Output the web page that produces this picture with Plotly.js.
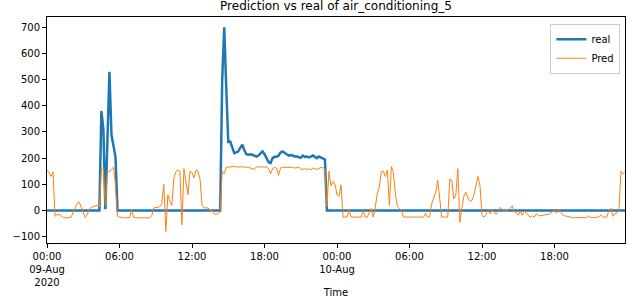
<!DOCTYPE html>
<html>
<head>
<meta charset="utf-8">
<script src="https://cdn.plot.ly/plotly-3.0.1.min.js"></script>
<style>html,body{margin:0;padding:0;background:#fff;}#chart{width:628px;height:298px;}</style>
</head>
<body>
<div id="chart"></div>
<script>
// 10-minute samples from 2020-08-09 00:00 to 2020-08-10 23:50
const startTime = "2020-08-09T00:00:00Z";
const stepMinutes = 10;

const realValues = [
  0,0,0,0,0,0, 0,0,0,0,0,0, 0,0,0,0,0,0, 0,0,0,0,0,0,
  0,0,0,380,310,5, 265,530,290,240,205,0,
  0,0,0,0,0,0, 0,0,0,0,0,0, 0,0,0,0,0,0, 0,0,0,0,0,0,
  0,0,0,0,0,0, 0,0,0,0,0,0, 0,0,0,0,0,0, 0,0,0,0,0,0,
  0,0,0,500,700,470, 262,263,240,219,222,226, 240,251,230,215,213,215,
  213,208,206,210,220,226, 215,200,185,181,200,205, 205,210,222,226,222,215,
  210,212,210,206,206,203, 201,210,205,206,203,206, 210,205,200,206,203,201,
  195,0,0,0,0,0,
  0,0,0,0,0,0, 0,0,0,0,0,0, 0,0,0,0,0,0, 0,0,0,0,0,0,
  0,0,0,0,0,0, 0,0,0,0,0,0, 0,0,0,0,0,0, 0,0,0,0,0,0,
  0,0,0,0,0,0, 0,0,0,0,0,0, 0,0,0,0,0,0, 0,0,0,0,0,0,
  0,0,0,0,0,0, 0,0,0,0,0,0, 0,0,0,0,0,0, 0,0,0,0,0,0,
  0,0,0,0,0,0, 0,0,0,0,0,0, 0,0,0,0,0,0, 0,0,0,0,0,0,
  0,0,0,0,0,0, 0,0,0,0,0,0, 0,0,0,0,0,0, 0,0,0,0,0,0
];

const predValues = [
  155,145,130,148,-22,-15, -15,-22,-27,-28,-28,-27, -25,-10,10,28,32,12, -10,-27,-15,5,12,15,
  18,20,15,155,158,20, 150,148,158,165,100,-22, -25,-27,-28,-28,-28,-27, 3,-27,-28,-28,-28,-28,
  -28,-28,-28,-28,-20,10, 12,12,15,25,100,-80, 60,35,20,125,148,155, 150,-55,160,110,60,150,
  145,125,155,150,120,20, 10,10,10,-3,3,-12, -15,-12,-5,150,140,165, 166,167,167,168,167,166,
  166,167,165,165,166,162, 158,160,166,167,166,165, 166,166,160,140,160,165, 162,135,163,165,165,166,
  166,166,165,162,163,166, 160,156,162,155,160,155, 163,160,157,160,165,163, 160,15,150,95,110,100,
  60,55,98,-25,-25,-25, 3,-25,-25,-25,-25,-25, -25,0,-25,-25,-5,8, -25,12,65,90,148,150,
  130,155,20,168,145,60, 15,8,0,-25,-25,-25, -25,-25,-25,-25,-25,-25, -25,-25,-10,-25,-25,25,
  48,70,117,45,-25,-25, -25,-25,120,115,44,60, 160,-45,10,55,70,48, 35,38,60,94,130,95,
  -20,-25,-15,0,-12,5, -5,-15,-5,12,5,-3, 0,2,8,18,-4,-8, -18,-2,-18,-2,-8,-16,
  -27,-20,-25,-12,-20,-20, -19,-18,-16,-14,-10,-5, 3,-10,5,-3,-16,-20, -22,-25,-25,-27,-27,-27,
  -27,-27,-27,-27,-27,-20, -27,-27,-27,-27,-25,-16, -25,-25,-25,0,8,-22, -12,-10,0,150,140,148
];

const tickVals = ["2020-08-09 00:00","2020-08-09 06:00","2020-08-09 12:00","2020-08-09 18:00",
                  "2020-08-10 00:00","2020-08-10 06:00","2020-08-10 12:00","2020-08-10 18:00"];
const tickText = ["00:00<br>09-Aug<br>2020","06:00","12:00","18:00","00:00<br>10-Aug","06:00","12:00","18:00"];
const yTicks = [-100,0,100,200,300,400,500,600,700];

function fmt(d){
  const p = n => String(n).padStart(2,"0");
  return d.getUTCFullYear()+"-"+p(d.getUTCMonth()+1)+"-"+p(d.getUTCDate())+" "+p(d.getUTCHours())+":"+p(d.getUTCMinutes());
}
const t0 = new Date(startTime).getTime();
const times = predValues.map((_, i) => fmt(new Date(t0 + i*stepMinutes*60000)));

const font = {family: "DejaVu Sans, sans-serif", size: 10, color: "#000"};

const traces = [
  {x: times, y: realValues, type: "scatter", mode: "lines", name: "real",
   line: {color: "#1f77b4", width: 2.5}},
  {x: times, y: predValues, type: "scatter", mode: "lines", name: "Pred",
   line: {color: "#ff7f0e", width: 1}}
];

const layout = {
  width: 628, height: 298,
  margin: {l: 47, r: 3, t: 17, b: 55},
  paper_bgcolor: "#fff", plot_bgcolor: "#fff",
  font: font,
  title: {text: "Prediction vs real of air_conditioning_5", font: {family: font.family, size: 12, color: "#000"},
          x: 0.535, xanchor: "center", y: 0.995, yanchor: "top"},
  xaxis: {
    type: "date", range: [times[0], times[times.length-1]],
    tickmode: "array", tickvals: tickVals, ticktext: tickText,
    ticks: "outside", ticklen: 4, tickcolor: "#000", tickwidth: 1,
    showline: true, linecolor: "#000", linewidth: 1, mirror: true,
    showgrid: false, zeroline: false, automargin: false,
    tickfont: font,
    title: {text: "Time", font: font, standoff: 6}
  },
  yaxis: {
    range: [-124, 739],
    tickmode: "array", tickvals: yTicks,
    ticks: "outside", ticklen: 4, tickcolor: "#000", tickwidth: 1,
    showline: true, linecolor: "#000", linewidth: 1, mirror: true,
    showgrid: false, zeroline: false, automargin: false,
    tickfont: font
  },
  legend: {x: 0.992, y: 0.97, xanchor: "right", yanchor: "top",
           bgcolor: "rgba(255,255,255,0.8)", bordercolor: "#cccccc", borderwidth: 1,
           font: font, tracegroupgap: 0, itemwidth: 30},
  showlegend: true
};

Plotly.newPlot("chart", traces, layout, {displayModeBar: false, staticPlot: true});
</script>
</body>
</html>
